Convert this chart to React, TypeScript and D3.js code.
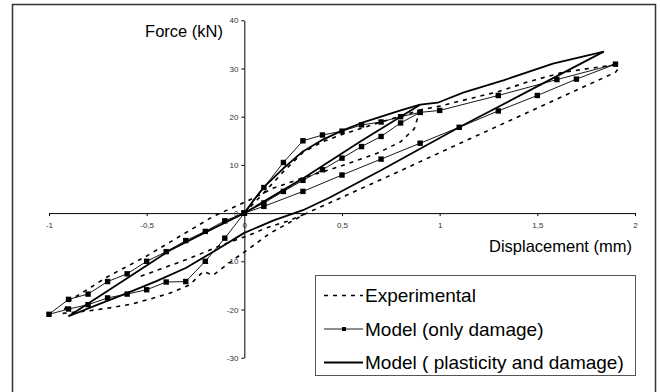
import React, { useRef, useEffect } from 'react';
import * as d3 from 'd3';

type Pt = [number, number];

// Experimental (dashed) branches
const expLoad1: Pt[] = [[0, 0], [0.1, 4.2], [0.2, 8.6], [0.3, 12.6], [0.4, 14.8], [0.5, 16.3], [0.6, 17.6], [0.7, 18.9], [0.8, 20.1], [0.9, 21.4]];
const expUnload1: Pt[] = [[0.9, 21.4], [0.87, 17.5], [0.8, 14.8], [0.68, 12.4], [0.49, 9.7], [0.3, 7.3], [0.15, 5.2], [0.01, 2.4], [-0.16, -0.7], [-0.33, -4.8], [-0.5, -8.9], [-0.7, -13.2], [-0.9, -18.3], [-0.93, -20.8]];
const expLowerNeg: Pt[] = [[-0.93, -20.8], [-0.8, -20.3], [-0.68, -19.6], [-0.58, -18.9], [-0.48, -17.8], [-0.38, -16.6], [-0.28, -14.9], [-0.21, -12.1], [-0.16, -12.9], [-0.06, -9.8], [0.03, -7.2], [0.13, -4.2], [0.22, -2.2], [0.32, 0], [0.49, 3.1], [0.8, 8.8], [1.1, 14.4], [1.5, 21.8], [1.9, 29.2], [1.92, 30.3], [1.9, 30.8]];
const expMidNeg: Pt[] = [[-0.53, -13.1], [-0.3, -9.7], [-0.1, -6.4], [0.03, -4.5], [0.11, -3.1], [0.22, -1.7], [0.32, 0]];
const expUnloadBig: Pt[] = [[1.9, 30.8], [1.8, 30.2], [1.63, 29.2], [1.45, 27.2], [1.3, 25.2], [1.17, 23.9], [1.0, 22.2], [0.9, 21.4]];

// Model (only damage) - thin line with square markers
const dmgLoop1: Pt[] = [[0, 0], [0.1, 5.3], [0.2, 10.5], [0.3, 15], [0.4, 16.2], [0.5, 17], [0.6, 18.3], [0.7, 18.9], [0.8, 20], [0.9, 20.9], [0.8, 18.7], [0.7, 15.9], [0.6, 13.8], [0.5, 11.4], [0.4, 9], [0.3, 6.8], [0.2, 4.5], [0.1, 2.1], [0, 0]];
const dmgLoopNeg: Pt[] = [[0, 0], [-0.1, -5.2], [-0.2, -10], [-0.3, -14.2], [-0.4, -14.3], [-0.5, -15.9], [-0.6, -16.8], [-0.7, -17.6], [-0.8, -19], [-0.9, -19.9], [-1, -21], [-0.9, -17.9], [-0.8, -16.8], [-0.7, -14.2], [-0.6, -12.6], [-0.5, -10], [-0.4, -8], [-0.3, -5.7], [-0.2, -3.8], [-0.1, -1.6], [0, 0]];
const dmgLoopBig: Pt[] = [[0, 0], [0.1, 1.4], [0.3, 4.5], [0.5, 7.9], [0.7, 11.2], [0.9, 14.5], [1.1, 17.8], [1.3, 21.2], [1.5, 24.4], [1.7, 27.8], [1.9, 30.9], [1.6, 27.7], [1.3, 24.4], [1.0, 21.3], [0.9, 20.9]];

// Model (plasticity and damage) - thick solid line
const plEnvelope: Pt[] = [[0, 0], [0.05, 2.8], [0.1, 5.4], [0.2, 9.3], [0.3, 12.8], [0.4, 15.2], [0.5, 17.1], [0.6, 18.7], [0.7, 20], [0.8, 21.3], [0.9, 22.5]];
const plUnload1: Pt[] = [[0.9, 22.5], [0.6, 15], [0.3, 7.2], [0, 0], [-0.2, -4], [-0.38, -7.7], [-0.6, -13.5], [-0.9, -21.4]];
const plReload: Pt[] = [[-0.9, -21.4], [-0.75, -19], [-0.6, -16.6], [-0.45, -14.1], [-0.3, -11.4], [-0.15, -7.8], [0, -4.1], [0.15, -1.5], [0.3, 0.6], [0.44, 3.3], [0.7, 8.9], [1.1, 17.8], [1.5, 26.3], [1.84, 33.5]];
const plUpper: Pt[] = [[1.84, 33.5], [1.58, 31], [1.33, 27.6], [1.12, 25], [0.99, 22.9], [0.9, 22.5]];

const xTicks = [-1, -0.5, 0, 0.5, 1, 1.5, 2];
const xTickLabels = ['-1', '-0,5', '0', '0,5', '1', '1,5', '2'];
const yTicks = [-30, -20, -10, 0, 10, 20, 30, 40];

const legendLabels = ['Experimental', 'Model (only damage)', 'Model ( plasticity and damage)'];

const font = '"Liberation Sans", Arial, sans-serif';

const App: React.FC = () => {
    const xAxisRef = useRef<SVGGElement | null>(null);
    const yAxisRef = useRef<SVGGElement | null>(null);

    const x = d3.scaleLinear().domain([-1, 2]).range([49, 635]);
    const y = d3.scaleLinear().domain([-30, 40]).range([357.7, 20.3]);
    const line = d3.line<Pt>().x((d) => x(d[0])).y((d) => y(d[1]));

    useEffect(() => {
        if (xAxisRef.current) {
            const g = d3.select(xAxisRef.current);
            g.selectAll('*').remove();
            g.call(
                d3.axisBottom(x)
                    .tickValues(xTicks)
                    .tickSize(3)
                    .tickSizeOuter(0)
                    .tickPadding(6)
                    .tickFormat((_, i) => xTickLabels[i]),
            );
            g.selectAll('text').attr('font-size', 8).attr('font-family', font).attr('fill', '#333');
        }
        if (yAxisRef.current) {
            const g = d3.select(yAxisRef.current);
            g.selectAll('*').remove();
            g.call(
                d3.axisLeft(y)
                    .tickValues(yTicks)
                    .tickSize(3)
                    .tickSizeOuter(0)
                    .tickPadding(3)
                    .tickFormat((d) => String(d)),
            );
            g.selectAll('text').attr('font-size', 8).attr('font-family', font).attr('fill', '#333');
        }
    }, []);

    const expPaths = [expLoad1, expUnload1, expLowerNeg, expMidNeg, expUnloadBig];
    const dmgPaths = [dmgLoop1, dmgLoopNeg, dmgLoopBig];
    const plPaths = [plEnvelope, plUnload1, plReload, plUpper];
    const dash = '4,5';

    return (
        <div style={{ position: 'fixed', left: 0, top: 0 }}>
            <svg width={660} height={392} style={{ display: 'block', background: '#fff' }}>
                <rect x={12.5} y={4.5} width={643} height={400} fill="#fff" stroke="#333" strokeWidth={1.5} />

                <g ref={xAxisRef} transform={`translate(0,${y(0)})`} />
                <g ref={yAxisRef} transform={`translate(${x(0)},0)`} />

                {expPaths.map((p, i) => (
                    <path key={'e' + i} d={line(p) || ''} fill="none" stroke="#000" strokeWidth={1.6} strokeDasharray={dash} />
                ))}
                {plPaths.map((p, i) => (
                    <path key={'p' + i} d={line(p) || ''} fill="none" stroke="#000" strokeWidth={1.8} strokeLinejoin="round" />
                ))}
                {dmgPaths.map((p, i) => (
                    <g key={'d' + i}>
                        <path d={line(p) || ''} fill="none" stroke="#000" strokeWidth={0.9} />
                        {p.map((d, j) => (
                            <rect key={j} x={x(d[0]) - 2.7} y={y(d[1]) - 2.7} width={5.4} height={5.4} fill="#000" />
                        ))}
                    </g>
                ))}

                <text x={223} y={37} textAnchor="end" fontFamily={font} fontSize={16.5}>Force (kN)</text>
                <text x={632} y={252} textAnchor="end" fontFamily={font} fontSize={16.5}>Displacement (mm)</text>

                <g>
                    <rect x={315.5} y={275.5} width={320} height={100} fill="#fff" stroke="#555" strokeWidth={1} />
                    {legendLabels.map((label, i) => {
                        const cy = [295.5, 329, 362.5][i];
                        return (
                            <g key={label}>
                                <line
                                    x1={324}
                                    x2={363}
                                    y1={cy}
                                    y2={cy}
                                    stroke="#000"
                                    strokeWidth={i === 1 ? 0.9 : i === 0 ? 1.6 : 1.8}
                                    strokeDasharray={i === 0 ? dash : undefined}
                                />
                                {i === 1 && <rect x={342} y={cy - 2} width={4} height={4} fill="#000" />}
                                <text x={365} y={cy + 6.8} fontFamily={font} fontSize={19}>{label}</text>
                            </g>
                        );
                    })}
                </g>
            </svg>
        </div>
    );
};

export default App;
